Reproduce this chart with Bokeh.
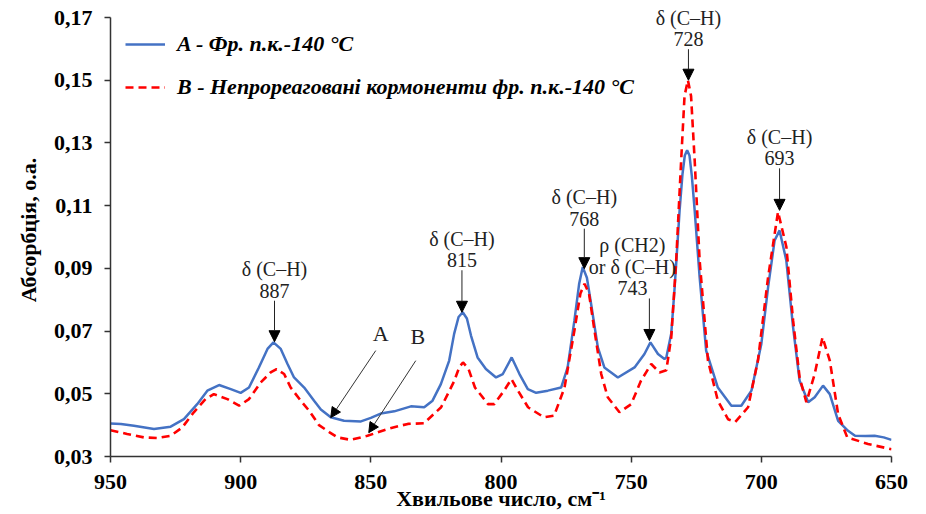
from bokeh.plotting import figure
from bokeh.models import (Range1d, FixedTicker, ColumnDataSource, LabelSet, Arrow,
                          NormalHead, Label)
from bokeh.core.properties import value
from bokeh.embed import file_html
from bokeh.resources import INLINE

# ---------------- data ----------------
wn_a = [950, 946, 941, 933.3, 926.9, 921.8, 916.7, 912.8, 908.3, 903.8, 900, 896.8,
        893, 889.7, 887.4, 884.6, 882, 879.5, 875.6, 871.8, 869.2, 865.4, 860.3,
        853.8, 850, 846.2, 841, 834.6, 829.5, 826.3, 823.1, 819.9, 818, 816.3, 814.7,
        813.1, 811.5, 809, 805.8, 801.9, 799.3, 795.9, 792.9, 789.7, 786.5, 782,
        776.9, 774.4, 771.8, 770, 768.6, 767, 765.4, 762.8, 760.3, 755.1, 748.7,
        744.9, 742.6, 739.7, 737.2, 736.5, 734.6, 733.3, 731.4, 730.3, 729.4, 728.5,
        727.6, 726.7, 725.6, 723.7, 721.2, 716.7, 711.5, 707.7, 703.8, 700, 697.4,
        694.9, 693, 690.4, 687.8, 685.3, 682, 679.5, 676.3, 673.7, 670.5, 666.7,
        664, 660, 656.5, 653, 650]
abs_a = [0.0405, 0.0404, 0.0398, 0.0388, 0.0395, 0.0419, 0.0467, 0.0510, 0.0528,
         0.0515, 0.0503, 0.0520, 0.0584, 0.0643, 0.0664, 0.0643, 0.0595, 0.0552,
         0.0520, 0.0478, 0.0450, 0.0425, 0.0414, 0.0412, 0.0423, 0.0437, 0.0444,
         0.0460, 0.0457, 0.0478, 0.0531, 0.0606, 0.0691, 0.0745, 0.0760, 0.0740,
         0.0685, 0.0616, 0.0579, 0.0552, 0.0563, 0.0616, 0.0563, 0.0515, 0.0503,
         0.0510, 0.0520, 0.0584, 0.0734, 0.0850, 0.0904, 0.0870, 0.0787, 0.0648,
         0.0584, 0.0552, 0.0584, 0.0627, 0.0664, 0.0627, 0.0611, 0.0616, 0.0692,
         0.0839, 0.1084, 0.1200, 0.1260, 0.1277, 0.1260, 0.1195, 0.1084, 0.0872,
         0.0638, 0.0520, 0.0462, 0.0462, 0.0510, 0.0659, 0.0840, 0.0989, 0.1021,
         0.0925, 0.0712, 0.0542, 0.0473, 0.0489, 0.0526, 0.0499, 0.0414, 0.0382,
         0.0366, 0.0365, 0.0366, 0.0361, 0.0353]

wn_b = [950, 943.6, 937.2, 932, 926.9, 922.4, 918, 913.5, 910.3, 905.1, 900.6, 896.8,
        892.3, 888.5, 886.2, 883.3, 880.8, 876.9, 873.7, 869.9, 866, 862.8, 857.7,
        851.3, 843.5, 835.8, 829.6, 823, 818, 816, 814.6, 812.5, 810, 805, 802.6,
        798.8, 796, 793.5, 789.6, 783.5, 779.6, 775.6, 771.8, 769.5, 767.9, 766.2,
        764.1, 761.5, 759, 754.5, 750, 746.2, 742.3, 739.1, 736.5, 734.6, 732.7,
        730.8, 729.5, 728.2, 727, 725.6, 723.7, 720.5, 716.7, 712.8, 710, 705.1,
        701.3, 697.4, 693.6, 690.4, 687.8, 685.3, 682.7, 679.5, 676.5, 673.7, 670.5,
        667, 659, 651, 650]
abs_b = [0.0384, 0.0372, 0.0361, 0.0359, 0.0366, 0.0393, 0.0441, 0.0483, 0.0499,
         0.0483, 0.0462, 0.0483, 0.0536, 0.0568, 0.0579, 0.0563, 0.0520, 0.0478,
         0.0446, 0.0400, 0.0378, 0.0361, 0.0353, 0.0366, 0.0388, 0.0404, 0.0406,
         0.0457, 0.0540, 0.0585, 0.0600, 0.0580, 0.0520, 0.0467, 0.0467, 0.0510,
         0.0547, 0.0510, 0.0457, 0.0425, 0.0430, 0.0520, 0.0702, 0.0820, 0.0851,
         0.0820, 0.0702, 0.0563, 0.0489, 0.0441, 0.0467, 0.0542, 0.0595, 0.0568,
         0.0575, 0.0680, 0.0925, 0.1244, 0.1450, 0.1500, 0.1450, 0.1244, 0.0925,
         0.0606, 0.0478, 0.0419, 0.0410, 0.0457, 0.0606, 0.0872, 0.1080, 0.0969,
         0.0734, 0.0552, 0.0473, 0.0563, 0.0680, 0.0606, 0.0435, 0.0361, 0.0340,
         0.0325, 0.0323]

series_names = ["A - Фр. п.к.-140 °С",
                "B - Непрореаговані кормоненти фр. п.к.-140 °С"]

x_ticks = [950, 900, 850, 800, 750, 700, 650]
y_ticks = [0.03, 0.05, 0.07, 0.09, 0.11, 0.13, 0.15, 0.17]
y_tick_labels = ["0,03", "0,05", "0,07", "0,09", "0,11", "0,13", "0,15", "0,17"]

# band assignments: wavenumber, peak absorbance, label lines
peak_wn = [887, 815, 768, 743, 728, 693]
peak_abs = [0.0666, 0.0760, 0.0899, 0.0670, 0.1500, 0.1085]
peak_modes = [["δ (C–H)"], ["δ (C–H)"], ["δ (C–H)"], ["ρ (CH2)", "or δ (C–H)"],
              ["δ (C–H)"], ["δ (C–H)"]]

# curve pointers (A, B)
curve_letters = ["A", "B"]
curve_ptr_wn = [865.4, 850.8]
curve_ptr_abs = [0.0424, 0.0376]

# ---------------- figure ----------------
FONT = "Liberation Serif"
FW = 781
AXIS_H = 439                       # px between the 0.03 and 0.17 ticks
HEAD = 14                          # extra px of frame above the top tick
y0, y1 = y_ticks[0], y_ticks[-1]
x0, x1 = x_ticks[0], x_ticks[-1]
ppu_y = AXIS_H / (y1 - y0)         # px per absorbance unit
ppu_x = FW / (x0 - x1)             # px per wavenumber unit
FH = AXIS_H + HEAD
y_top = y1 + HEAD / ppu_y

p = figure(frame_width=FW, frame_height=FH, output_backend="svg",
           toolbar_location=None, x_range=Range1d(x0, x1), y_range=Range1d(y0, y_top),
           min_border_left=110, min_border_right=26, min_border_top=17 - HEAD,
           min_border_bottom=40)
p.outline_line_color = None
p.grid.visible = False
p.background_fill_color = "white"
p.border_fill_color = "white"

la = p.line(wn_a, abs_a, line_color="#4472C4", line_width=2.5, legend_label=series_names[0])
lb = p.line(wn_b, abs_b, line_color="#FF0000", line_width=2.6, line_dash="8 5",
            legend_label=series_names[1])

for ax in (p.xaxis[0], p.yaxis[0]):
    ax.axis_line_color = "#333333"
    ax.axis_line_width = 1.5
    ax.major_tick_line_color = "#333333"
    ax.major_tick_line_width = 1.5
    ax.major_tick_out = 6
    ax.major_tick_in = 0
    ax.minor_tick_line_color = None
    ax.major_label_text_font = FONT
    ax.major_label_text_font_style = "bold"
    ax.major_label_text_font_size = "22px"
    ax.major_label_text_color = "black"
    ax.axis_label_text_font = FONT
    ax.axis_label_text_font_style = "bold"
    ax.axis_label_text_font_size = "22px"
    ax.axis_label_text_color = "black"

p.xaxis.ticker = FixedTicker(ticks=x_ticks)
p.yaxis.ticker = FixedTicker(ticks=y_ticks)
p.yaxis.bounds = (y0, y1)
p.yaxis.major_label_overrides = {t: l for t, l in zip(y_ticks, y_tick_labels)}
p.xaxis.axis_label = "Хвильове число, см⁻¹"
p.yaxis.axis_label = "Абсорбція, о.а."
p.xaxis.major_label_standoff = 12
p.xaxis.axis_label_standoff = -6
p.yaxis.major_label_standoff = 12
p.yaxis.axis_label_standoff = 10

leg = p.legend[0]
PAD, ROW_H, ROW_GAP = 15, 30, 13
leg.padding = PAD
leg.spacing = ROW_GAP
leg.glyph_width = 40
leg.glyph_height = ROW_H
leg.label_height = ROW_H
leg.label_standoff = 12
leg_h = 2 * PAD + 2 * ROW_H + ROW_GAP
first_row_center = 41                       # px below the frame top
leg_top = first_row_center - PAD - ROW_H / 2
leg.location = (0, FH - leg_top - leg_h)
leg.margin = 0
leg.border_line_alpha = 0
leg.background_fill_alpha = 0
leg.label_text_font = FONT
leg.label_text_font_style = "bold italic"
leg.label_text_font_size = "22px"
leg.label_text_color = "black"

# ---------------- band annotations ----------------
arrow_len = [41, 42, 40, 42, 31, 42]
text_dx = [0, 0, 0, -17, 0, 0]
lx, ly, lt, lxo, lyo = [], [], [], [], []
ax_s, ay_s, ax_e, ay_e = [], [], [], []
for wn, ab, modes, L, dx in zip(peak_wn, peak_abs, peak_modes, arrow_len, text_dx):
    ax_s.append(wn); ay_s.append(ab + L / ppu_y)
    ax_e.append(wn); ay_e.append(ab)
    lines = modes + [str(wn)]
    n = len(lines)
    for i, t in enumerate(lines):
        lx.append(wn); ly.append(ab); lt.append(t)
        lxo.append(dx)
        lyo.append(L + 10 + 21.5 * (n - 1 - i))

lab_src = ColumnDataSource(dict(x=lx, y=ly, text=lt, xo=lxo, yo=lyo))
p.add_layout(LabelSet(x="x", y="y", text="text", x_offset="xo", y_offset="yo",
                      source=lab_src, text_align="center", text_baseline="middle",
                      text_font=value(FONT), text_font_size="20px",
                      text_color="#222222"))

arr_src = ColumnDataSource(dict(xs=ax_s, ys=ay_s, xe=ax_e, ye=ay_e))
p.add_layout(Arrow(x_start="xs", y_start="ys", x_end="xe", y_end="ye", source=arr_src,
                   line_color="#222222", line_width=1,
                   end=NormalHead(size=11, fill_color="black", line_color="black",
                                  line_width=1)))

# curve pointers A / B
tail_dx = [45, 47]    # px right of the pointed spot
tail_dy = [67, 72]    # px above the pointed spot
lab_dx = [5, 2]
lab_dy = [17, 24]
cx_s, cy_s, cx_e, cy_e = [], [], [], []
for letter, wn, ab, dx, dy, ldx, ldy in zip(curve_letters, curve_ptr_wn, curve_ptr_abs,
                                            tail_dx, tail_dy, lab_dx, lab_dy):
    xs = wn - dx / ppu_x
    ys = ab + dy / ppu_y
    cx_s.append(xs); cy_s.append(ys); cx_e.append(wn); cy_e.append(ab)
    p.add_layout(Label(x=xs, y=ys, text=letter, x_offset=ldx, y_offset=ldy,
                       text_align="center", text_baseline="middle",
                       text_font=FONT, text_font_size="22px",
                       text_color="#222222"))
ptr_src = ColumnDataSource(dict(xs=cx_s, ys=cy_s, xe=cx_e, ye=cy_e))
p.add_layout(Arrow(x_start="xs", y_start="ys", x_end="xe", y_end="ye", source=ptr_src,
                   line_color="#333333", line_width=1,
                   end=NormalHead(size=10, fill_color="black", line_color="black",
                                  line_width=1)))

open("out.html", "w").write(file_html(p, INLINE))
